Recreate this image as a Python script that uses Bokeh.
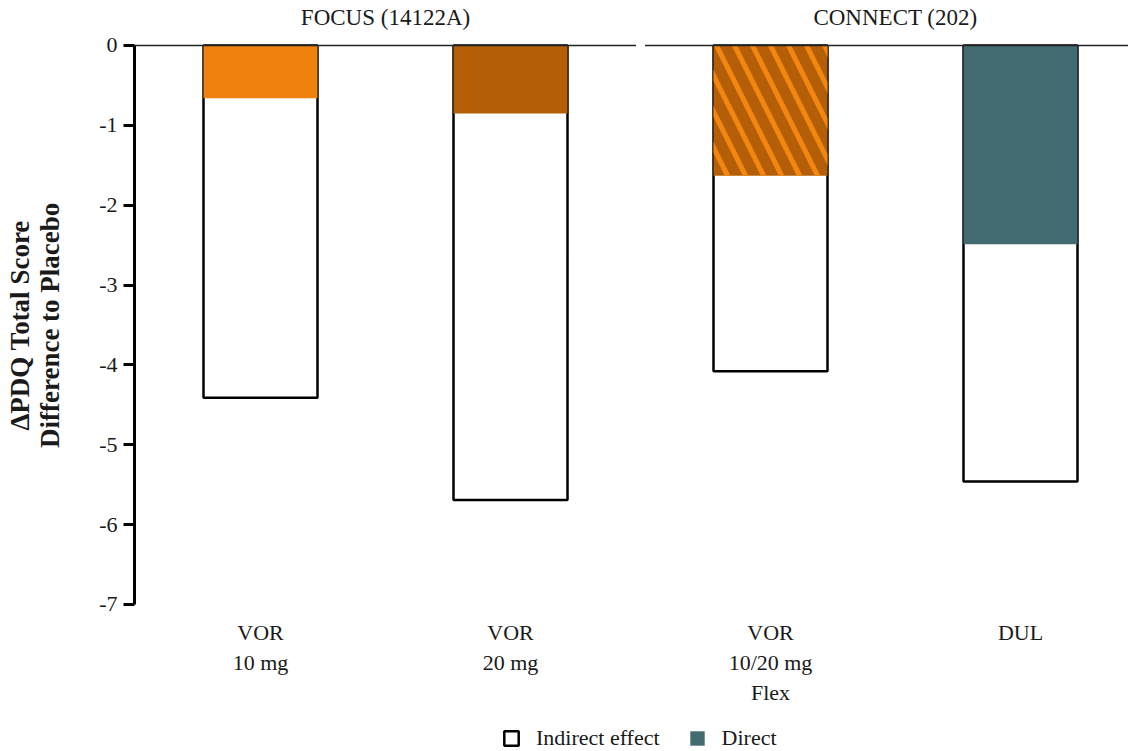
import numpy as np
from bokeh.plotting import figure
from bokeh.models import Range1d, FixedTicker, Legend, LegendItem, ColumnDataSource
from bokeh.core.properties import value
from bokeh.embed import file_html
from bokeh.resources import INLINE

# ---------------- data ----------------
studies = ["FOCUS (14122A)", "CONNECT (202)"]
treatments = [["VOR", "10 mg"], ["VOR", "20 mg"], ["VOR", "10/20 mg", "Flex"], ["DUL"]]
study_of = [0, 0, 1, 1]
total_effect = [-4.41, -5.69, -4.08, -5.46]
direct_effect = [-0.66, -0.85, -1.63, -2.49]
direct_colors = ["#EF810E", "#B45F07", "#B45F07", "#426C71"]
direct_hatch = [" ", " ", "\\", " "]
y_ticks = [0, -1, -2, -3, -4, -5, -6, -7]
legend_labels = ["Indirect effect", "Direct"]

# ---------------- layout constants ----------------
FONT = "Liberation Serif"
TXT = "#1a1a1a"
GAP = 0.04
BAR_W = 0.456
pos = [i + GAP * study_of[i] for i in range(len(treatments))]
X0, X1 = pos[0] - 0.504, pos[-1] + 0.432
Y0, Y1 = -8.841, 0.5635

p = figure(width=1128, height=751, x_range=Range1d(X0, X1), y_range=Range1d(Y0, Y1),
           output_backend="svg", toolbar_location=None, x_axis_location=None,
           min_border_left=134, min_border_right=0, min_border_top=0, min_border_bottom=0)
p.grid.visible = False
p.outline_line_color = None
p.background_fill_color = "white"

# y axis
ax = p.yaxis[0]
ax.bounds = (min(y_ticks), max(y_ticks))
ax.ticker = FixedTicker(ticks=y_ticks)
ax.major_label_overrides = {t: str(t) for t in y_ticks}
ax.minor_tick_line_color = None
ax.major_tick_in = 0
ax.major_tick_out = 11
ax.major_tick_line_width = 3
ax.axis_line_width = 3
ax.axis_line_color = "black"
ax.major_tick_line_color = "black"
ax.major_label_text_font = FONT
ax.major_label_text_font_size = "22px"
ax.major_label_text_color = TXT
ax.major_label_standoff = 6
pad = "\u00a0" * 15
ax.axis_label = pad + "\u0394PDQ Total Score\n" + pad + "Difference to Placebo"
ax.axis_label_text_font = FONT
ax.axis_label_text_font_size = "27px"
ax.axis_label_text_font_style = "bold"
ax.axis_label_text_color = TXT
ax.axis_label_text_line_height = 1.0
ax.axis_label_standoff = 31

# bars
src = ColumnDataSource(dict(x=pos, total=total_effect, direct=direct_effect,
                            color=direct_colors, hatch=direct_hatch))
r_total = p.vbar(x="x", top=0, bottom="total", width=BAR_W, source=src,
                 fill_color="white", line_color="black", line_width=2.5)
r_direct = p.vbar(x="x", top=0, bottom="direct", width=BAR_W, source=src,
                  fill_color="color", line_color=None,
                  hatch_pattern="hatch", hatch_color="#F2870F", hatch_weight=5, hatch_scale=36)

# zero line split between study panels
mid = (pos[1] + pos[2]) / 2
p.segment(x0=[X0, mid + GAP * 0.45], x1=[mid - GAP * 0.45, X1], y0=[0, 0], y1=[0, 0],
          line_color="#222222", line_width=1.5)

# study titles
st_x = [np.mean([pos[i] for i in range(len(pos)) if study_of[i] == s]) for s in range(len(studies))]
p.text(x=st_x, y=[0.35] * len(studies), text=studies, text_align="center",
       text_baseline="middle", text_font=value(FONT), text_font_size="23px", text_color=TXT)

# treatment labels
lx, ly, lt = [], [], []
for i, lines in enumerate(treatments):
    for k, t in enumerate(lines):
        lx.append(pos[i]); ly.append(min(y_ticks) - 0.35 - 0.375 * k); lt.append(t)
p.text(x=lx, y=ly, text=lt, text_align="center", text_baseline="middle",
       text_font=value(FONT), text_font_size="22px", text_color=TXT)

# legend
legend = Legend(items=[LegendItem(label=legend_labels[0], renderers=[r_total], index=0),
                       LegendItem(label=legend_labels[1], renderers=[r_direct], index=3)],
                location=(368, 0), orientation="horizontal",
                border_line_color=None, background_fill_alpha=0,
                label_text_font=FONT, label_text_font_size="22px", label_text_color=TXT,
                glyph_width=18, glyph_height=18, label_standoff=16, spacing=28,
                padding=2, margin=0, label_height=22)
p.add_layout(legend)

open("out.html", "w").write(file_html(p, INLINE))
